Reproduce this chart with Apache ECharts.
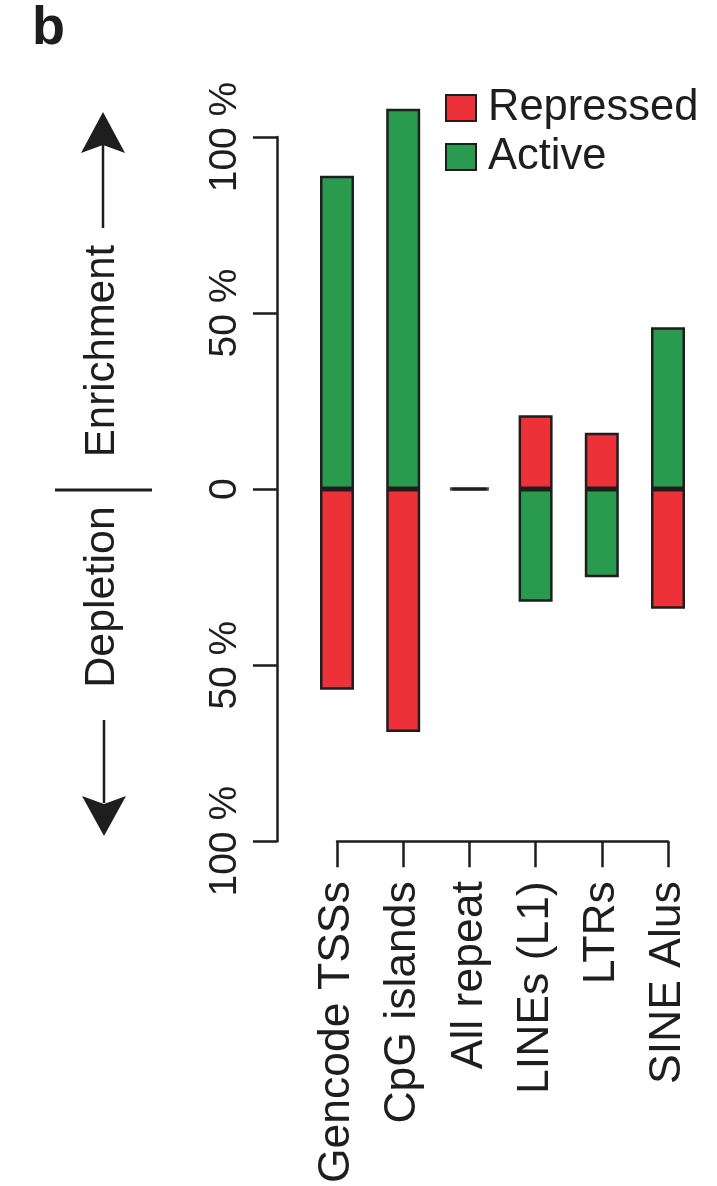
<!DOCTYPE html>
<html>
<head>
<meta charset="utf-8">
<script src="https://cdn.jsdelivr.net/npm/echarts@6/dist/echarts.min.js"></script>
<style>
  html, body { margin: 0; padding: 0; background: #fff; }
  #chart { width: 717px; height: 1186px; }
</style>
</head>
<body>
<div id="chart"></div>
<script>
// Enrichment (+) / depletion (-) in percent for each genomic feature
const categories = ['Gencode TSSs', 'CpG islands', 'All repeat', 'LINEs (L1)', 'LTRs', 'SINE Alus'];
const repressed = [-57, -69, 0, 21, 16, -34];
const active = [89, 108, 0, -32, -25, 46];
const yTicks = [-100, -50, 0, 50, 100];

const RED = '#ec3238';
const GREEN = '#2a9a4e';
const INK = '#1e1e1e';
const FONT = '"Liberation Sans", Arial, Helvetica, sans-serif';

const chart = echarts.init(document.getElementById('chart'), null, { renderer: 'canvas' });

const barStyle = (color) => ({ color: color, borderColor: INK, borderWidth: 2.5 });

// one legend block per entry so the rows sit tightly together
const legendEntry = (name, top) => ({
  orient: 'vertical', left: 445, top: top, padding: 0,
  itemWidth: 30, itemHeight: 26,
  icon: 'rect',
  data: [name],
  textStyle: { fontFamily: FONT, fontSize: 43.5, color: INK, padding: [0, 0, 0, 7] }
});

chart.setOption({
  animation: false,
  backgroundColor: '#ffffff',
  textStyle: { fontFamily: FONT, color: INK },
  title: {
    text: 'b', left: 27, top: -3,
    textStyle: { fontFamily: FONT, fontSize: 54, fontWeight: 'bold', color: INK }
  },
  legend: [legendEntry('Repressed', 86), legendEntry('Active', 135)],
  grid: { left: 337, right: 49, top: 137, bottom: 343, containLabel: false },
  xAxis: {
    type: 'category', data: categories, boundaryGap: false, position: 'bottom',
    axisLine: { show: true, onZero: false, lineStyle: { color: INK, width: 2.5 } },
    axisTick: { show: true, length: 26, lineStyle: { color: INK, width: 2.5 } },
    axisLabel: { rotate: 90, margin: 40, fontSize: 44.5, color: INK, fontFamily: FONT, interval: 0 },
    splitLine: { show: false }
  },
  yAxis: {
    type: 'value', min: yTicks[0], max: yTicks[yTicks.length - 1], interval: 50,
    offset: 60,
    axisLine: { show: true, lineStyle: { color: INK, width: 2.5 } },
    axisTick: { show: true, length: 24, lineStyle: { color: INK, width: 2.5 } },
    axisLabel: {
      rotate: 90, margin: 32, fontSize: 39, color: INK, fontFamily: FONT,
      formatter: (v) => (v === 0 ? '0' : Math.abs(v) + ' %')
    },
    splitLine: { show: false }
  },
  series: [
    {
      name: 'Repressed', type: 'bar', stack: 'feature', barWidth: 34, clip: false,
      data: repressed, itemStyle: barStyle(RED)
    },
    {
      name: 'Active', type: 'bar', stack: 'feature', barWidth: 34, clip: false,
      data: active, itemStyle: barStyle(GREEN)
    },
    {
      // features with no net change are shown as a flat dash at zero
      name: 'No change', type: 'scatter', symbol: 'rect', symbolSize: [39, 3.5],
      data: categories.map((c, i) => (repressed[i] === 0 && active[i] === 0 ? [c, 0] : null)).filter(Boolean),
      itemStyle: { color: INK }, z: 5
    }
  ],
  graphic: [
    // Enrichment / Depletion direction guide
    { type: 'line', shape: { x1: 55, y1: 490, x2: 152, y2: 490 }, style: { stroke: INK, lineWidth: 3 } },
    { type: 'text', x: 102, y: 351, rotation: Math.PI / 2,
      style: { text: 'Enrichment', fontSize: 42, fontFamily: FONT, fill: INK, align: 'center', verticalAlign: 'middle' } },
    { type: 'text', x: 102, y: 597, rotation: Math.PI / 2,
      style: { text: 'Depletion', fontSize: 43, fontFamily: FONT, fill: INK, align: 'center', verticalAlign: 'middle' } },
    { type: 'line', shape: { x1: 103, y1: 228, x2: 103, y2: 145 }, style: { stroke: INK, lineWidth: 2.5 } },
    { type: 'polygon', shape: { points: [[103, 112], [125, 153], [103, 145], [81, 153]] }, style: { fill: INK } },
    { type: 'line', shape: { x1: 104, y1: 720, x2: 104, y2: 803 }, style: { stroke: INK, lineWidth: 2.5 } },
    { type: 'polygon', shape: { points: [[104, 836], [126, 796], [104, 804], [82, 796]] }, style: { fill: INK } }
  ]
});
</script>
</body>
</html>
